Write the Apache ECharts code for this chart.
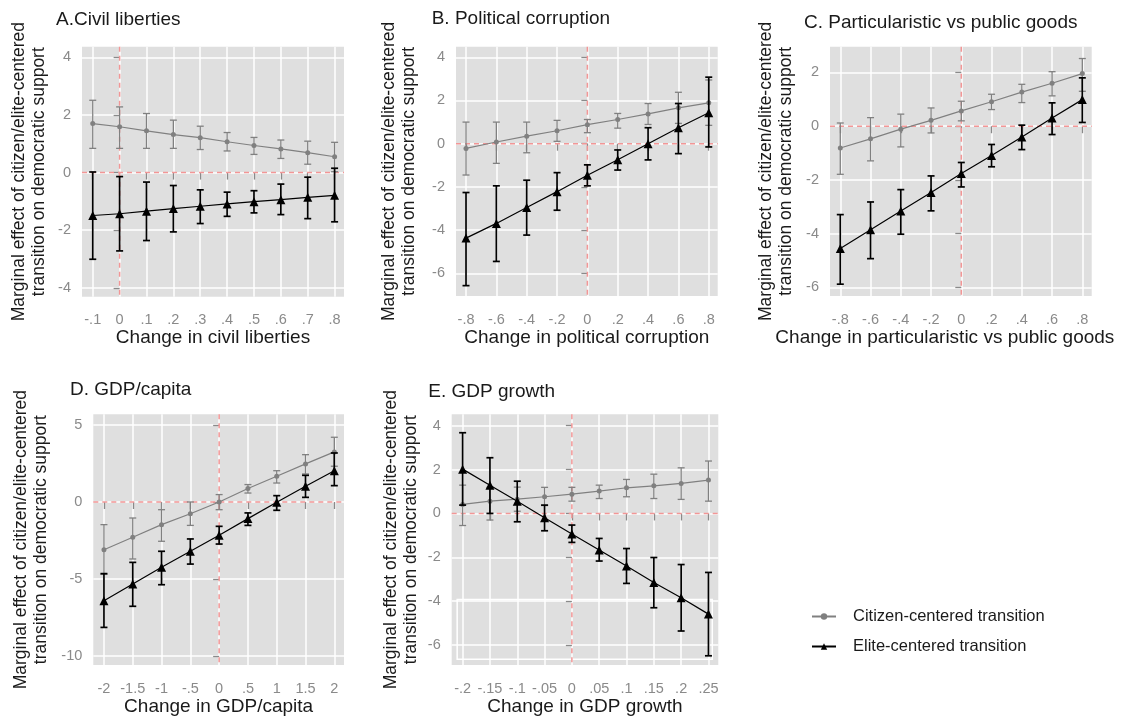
<!DOCTYPE html>
<html><head><meta charset="utf-8">
<script src="https://cdn.jsdelivr.net/npm/echarts@6/dist/echarts.min.js"></script>
<style>html,body{margin:0;padding:0;background:#fff}#c{width:1126px;height:717px}</style>
</head><body><div id="c"></div><script>
// ---------- Panel A: Civil liberties ----------
const xA = [-0.1, 0, 0.1, 0.2, 0.3, 0.4, 0.5, 0.6, 0.7, 0.8];
const xLabA = ['-.1', '0', '.1', '.2', '.3', '.4', '.5', '.6', '.7', '.8'];
const yTickA = [-4, -2, 0, 2, 4];
const yLabA = ['-4', '-2', '0', '2', '4'];
const citA = [1.70, 1.59, 1.45, 1.32, 1.21, 1.07, 0.94, 0.82, 0.69, 0.55];
const citLoA = [0.84, 0.84, 0.84, 0.84, 0.80, 0.75, 0.63, 0.49, 0.29, 0.03];
const citHiA = [2.51, 2.28, 2.05, 1.82, 1.61, 1.39, 1.22, 1.13, 1.09, 1.05];
const eliA = [-1.49, -1.43, -1.34, -1.25, -1.17, -1.09, -1.01, -0.94, -0.86, -0.79];
const eliLoA = [-3.01, -2.72, -2.36, -2.06, -1.77, -1.52, -1.40, -1.46, -1.60, -1.71];
const eliHiA = [0.02, -0.14, -0.33, -0.45, -0.60, -0.68, -0.63, -0.40, -0.16, 0.15];

// ---------- Panel B: Political corruption ----------
const xB = [-0.8, -0.6, -0.4, -0.2, 0, 0.2, 0.4, 0.6, 0.8];
const xLabB = ['-.8', '-.6', '-.4', '-.2', '0', '.2', '.4', '.6', '.8'];
const yTickB = [-6, -4, -2, 0, 2, 4];
const yLabB = ['-6', '-4', '-2', '0', '2', '4'];
const citB = [-0.22, 0.08, 0.35, 0.60, 0.88, 1.12, 1.38, 1.66, 1.89];
const citLoB = [-1.45, -0.91, -0.42, 0.11, 0.51, 0.72, 0.89, 0.94, 0.85];
const citHiB = [1.00, 1.00, 1.00, 1.08, 1.12, 1.40, 1.86, 2.38, 2.95];
const eliB = [-4.37, -3.69, -2.95, -2.22, -1.46, -0.74, 0.00, 0.74, 1.43];
const eliLoB = [-6.57, -5.45, -4.23, -3.08, -1.95, -1.22, -0.75, -0.46, -0.15];
const eliHiB = [-2.26, -1.95, -1.69, -1.34, -0.98, -0.29, 0.74, 1.86, 3.08];

// ---------- Panel C: Particularistic vs public goods ----------
const xC = [-0.8, -0.6, -0.4, -0.2, 0, 0.2, 0.4, 0.6, 0.8];
const xLabC = ['-.8', '-.6', '-.4', '-.2', '0', '.2', '.4', '.6', '.8'];
const yTickC = [-6, -4, -2, 0, 2];
const yLabC = ['-6', '-4', '-2', '0', '2'];
const citC = [-0.81, -0.47, -0.11, 0.22, 0.57, 0.91, 1.27, 1.60, 1.96];
const citLoC = [-1.79, -1.29, -0.77, -0.25, 0.20, 0.62, 0.88, 1.13, 1.30];
const citHiC = [0.12, 0.32, 0.45, 0.68, 0.93, 1.19, 1.56, 2.03, 2.52];
const eliC = [-4.55, -3.85, -3.16, -2.47, -1.76, -1.09, -0.40, 0.31, 0.99];
const eliLoC = [-5.88, -4.93, -4.02, -3.15, -2.26, -1.51, -0.87, -0.31, 0.14];
const eliHiC = [-3.29, -2.82, -2.36, -1.85, -1.35, -0.68, 0.04, 0.87, 1.80];

// ---------- Panel D: GDP/capita ----------
const xD = [-2, -1.5, -1, -0.5, 0, 0.5, 1, 1.5, 2];
const xLabD = ['-2', '-1.5', '-1', '-.5', '0', '.5', '1', '1.5', '2'];
const yTickD = [-10, -5, 0, 5];
const yLabD = ['-10', '-5', '0', '5'];
const citD = [-3.10, -2.29, -1.47, -0.76, 0.00, 0.87, 1.67, 2.47, 3.25];
const citLoD = [-4.70, -3.70, -2.55, -1.52, -0.50, 0.58, 1.23, 1.82, 2.32];
const citHiD = [-1.47, -1.04, -0.50, 0.00, 0.48, 1.13, 2.03, 3.07, 4.20];
const eliD = [-6.41, -5.32, -4.24, -3.20, -2.16, -1.08, -0.02, 1.02, 2.03];
const eliLoD = [-8.14, -6.77, -5.37, -4.03, -2.73, -1.52, -0.54, 0.30, 1.06];
const eliHiD = [-4.65, -3.92, -3.20, -2.40, -1.58, -0.71, 0.41, 1.73, 3.18];

// ---------- Panel E: GDP growth ----------
const xE = [-0.2, -0.15, -0.1, -0.05, 0, 0.05, 0.1, 0.15, 0.2, 0.25];
const xLabE = ['-.2', '-.15', '-.1', '-.05', '0', '.05', '.1', '.15', '.2', '.25'];
const yTickE = [-6, -4, -2, 0, 2, 4];
const yLabE = ['-6', '-4', '-2', '0', '2', '4'];
const citE = [0.41, 0.56, 0.65, 0.76, 0.88, 1.02, 1.17, 1.26, 1.37, 1.52];
const citLoE = [-0.55, -0.30, 0.10, 0.36, 0.56, 0.68, 0.76, 0.68, 0.64, 0.56];
const citHiE = [1.29, 1.19, 1.20, 1.19, 1.19, 1.29, 1.55, 1.79, 2.08, 2.39];
const eliE = [2.02, 1.29, 0.56, -0.20, -0.94, -1.67, -2.40, -3.15, -3.84, -4.59];
const eliLoE = [0.38, 0.00, -0.38, -0.79, -1.32, -2.17, -3.19, -4.30, -5.36, -6.49];
const eliHiE = [3.68, 2.54, 1.47, 0.38, -0.53, -1.14, -1.60, -2.01, -2.33, -2.69];
// stray white frame present in the original panel E (x from, x to, y from, y to)
const frameE = [-0.210, 0.257, -3.92, -6.65];

// reference value for the dashed red lines (x = 0 and y = 0)
const refPoint = [0, 0];

const titles = ['A.Civil liberties', 'B. Political corruption', 'C. Particularistic vs public goods', 'D. GDP/capita', 'E. GDP growth'];
const xNames = ['Change in civil liberties', 'Change in political corruption', 'Change in particularistic vs public goods', 'Change in GDP/capita', 'Change in GDP growth'];
const yName = 'Marginal effect of citizen/elite-centered\ntransition on democratic support';
const seriesNames = ['Citizen-centered transition', 'Elite-centered transition'];

// ---------- layout / style ----------
const FONT = 'Liberation Sans, Arial, sans-serif';
const GRAY = '#808080';
const TICKC = '#8a8a8a';
const TXT = '#1a1a1a';
const REDC = '#f29696';
const layout = [
  {grid: {left: 82, top: 46.7, width: 262, height: 250}, xr: [-0.140, 0.835], yr: [-4.31, 4.37], title: [56, 9.8], yGap: 31, xPad: 0},
  {grid: {left: 456, top: 46.7, width: 261.7, height: 249.3}, xr: [-0.866, 0.859], yr: [-7.05, 4.49], title: [431.7, 8.8], yGap: 35, xPad: 0},
  {grid: {left: 830, top: 46.7, width: 261.7, height: 249.3}, xr: [-0.868, 0.862], yr: [-6.32, 2.96], title: [804, 13], yGap: 32, xPad: 32},
  {grid: {left: 93.3, top: 414.3, width: 250.7, height: 250.7}, xr: [-2.185, 2.168], yr: [-10.58, 5.69], title: [70, 380.5], yGap: 40, xPad: 0},
  {grid: {left: 451.7, top: 414.3, width: 266.6, height: 250.7}, xr: [-0.220, 0.268], yr: [-6.91, 4.52], title: [428.3, 382], yGap: 29, xPad: 0}
];

const panels = [
  {x: xA, xl: xLabA, yt: yTickA, yl: yLabA, c: citA, cl: citLoA, ch: citHiA, e: eliA, el: eliLoA, eh: eliHiA},
  {x: xB, xl: xLabB, yt: yTickB, yl: yLabB, c: citB, cl: citLoB, ch: citHiB, e: eliB, el: eliLoB, eh: eliHiB},
  {x: xC, xl: xLabC, yt: yTickC, yl: yLabC, c: citC, cl: citLoC, ch: citHiC, e: eliC, el: eliLoC, eh: eliHiC},
  {x: xD, xl: xLabD, yt: yTickD, yl: yLabD, c: citD, cl: citLoD, ch: citHiD, e: eliD, el: eliLoD, eh: eliHiD},
  {x: xE, xl: xLabE, yt: yTickE, yl: yLabE, c: citE, cl: citLoE, ch: citHiE, e: eliE, el: eliLoE, eh: eliHiE}
];

function labeler(ticks, labels) {
  return function (v) {
    for (let i = 0; i < ticks.length; i++) if (Math.abs(ticks[i] - v) < 1e-9) return labels[i];
    return '';
  };
}

function errRender(capW, color, lw) {
  return function (params, api) {
    const x = api.value(0), lo = api.value(1), hi = api.value(2);
    const p1 = api.coord([x, lo]), p2 = api.coord([x, hi]);
    const h = capW / 2;
    const st = {stroke: color, lineWidth: lw};
    return {type: 'group', children: [
      {type: 'line', shape: {x1: p1[0], y1: p1[1], x2: p2[0], y2: p2[1]}, style: st},
      {type: 'line', shape: {x1: p1[0] - h, y1: p1[1], x2: p1[0] + h, y2: p1[1]}, style: st},
      {type: 'line', shape: {x1: p2[0] - h, y1: p2[1], x2: p2[0] + h, y2: p2[1]}, style: st}
    ]};
  };
}

function refRender(params, api) {
  const cs = params.coordSys;
  const p = api.coord([api.value(0), api.value(1)]);
  const st = {stroke: REDC, lineWidth: 1.5, lineDash: [5, 4]};
  return {type: 'group', children: [
    {type: 'line', shape: {x1: p[0], y1: cs.y, x2: p[0], y2: cs.y + cs.height}, style: st},
    {type: 'line', shape: {x1: cs.x, y1: p[1], x2: cs.x + cs.width, y2: p[1]}, style: st}
  ]};
}

function frameRender(params, api) {
  const a = api.coord([api.value(0), api.value(2)]);
  const b = api.coord([api.value(1), api.value(3)]);
  return {type: 'rect', shape: {x: a[0], y: a[1], width: b[0] - a[0], height: b[1] - a[1]},
    style: {fill: 'none', stroke: '#ffffff', lineWidth: 1.5}};
}

const grids = [], xAxes = [], yAxes = [], series = [], titleOpts = [];
panels.forEach(function (p, i) {
  const L = layout[i];
  grids.push(Object.assign({show: true, backgroundColor: '#dfdfdf', borderWidth: 0, containLabel: false}, L.grid));
  titleOpts.push({text: titles[i], left: L.title[0], top: L.title[1], padding: 0,
    textStyle: {fontSize: 19, fontWeight: 'normal', color: TXT, fontFamily: FONT}});
  xAxes.push({
    gridIndex: i, type: 'value', min: L.xr[0], max: L.xr[1], offset: 1,
    axisLine: {show: false},
    axisTick: {show: true, length: 7, customValues: p.x, lineStyle: {color: TICKC, width: 1.3}},
    axisLabel: {customValues: p.x, formatter: labeler(p.x, p.xl), color: TICKC, fontSize: 14.5, margin: 15, fontFamily: FONT},
    splitLine: {show: true, lineStyle: {color: '#ffffff', width: 1.5}},
    name: xNames[i], nameLocation: 'middle', nameGap: 30,
    nameTextStyle: {fontSize: 19, color: TXT, fontFamily: FONT, padding: [0, L.xPad, 0, 0]}
  });
  yAxes.push({
    gridIndex: i, type: 'value', min: L.yr[0], max: L.yr[1], offset: 2,
    axisLine: {show: false},
    axisTick: {show: true, length: 6, customValues: p.yt, lineStyle: {color: TICKC, width: 1.3}},
    axisLabel: {customValues: p.yt, formatter: labeler(p.yt, p.yl), color: TICKC, fontSize: 14.5, margin: 9, fontFamily: FONT},
    splitLine: {show: true, lineStyle: {color: '#ffffff', width: 1.5}},
    name: yName, nameLocation: 'middle', nameGap: L.yGap,
    nameTextStyle: {fontSize: 17.5, lineHeight: 20, color: TXT, fontFamily: FONT}
  });
  const citErr = p.x.map(function (x, k) { return [x, p.cl[k], p.ch[k]]; });
  const eliErr = p.x.map(function (x, k) { return [x, p.el[k], p.eh[k]]; });
  const citPts = p.x.map(function (x, k) { return [x, p.c[k]]; });
  const eliPts = p.x.map(function (x, k) { return [x, p.e[k]]; });
  if (i === 4) {
    series.push({
      type: 'custom', name: 'frame', xAxisIndex: i, yAxisIndex: i, renderItem: frameRender,
      encode: {x: [0, 1], y: [2, 3]}, data: [frameE], silent: true, z: 1
    });
  }
  series.push({
    type: 'custom', name: 'ref' + i, xAxisIndex: i, yAxisIndex: i, renderItem: refRender,
    encode: {x: 0, y: 1}, data: [refPoint], silent: true, z: 1
  });
  series.push({
    type: 'custom', name: 'citErr' + i, xAxisIndex: i, yAxisIndex: i,
    renderItem: errRender(7, GRAY, 1.3), encode: {x: 0, y: [1, 2]}, data: citErr, silent: true, z: 2
  });
  series.push({
    type: 'line', name: seriesNames[0], xAxisIndex: i, yAxisIndex: i, data: citPts,
    symbol: 'circle', symbolSize: 5, itemStyle: {color: GRAY}, lineStyle: {color: GRAY, width: 1.2},
    silent: true, z: 3
  });
  series.push({
    type: 'custom', name: 'eliErr' + i, xAxisIndex: i, yAxisIndex: i,
    renderItem: errRender(7, '#000000', 1.7), encode: {x: 0, y: [1, 2]}, data: eliErr, silent: true, z: 4
  });
  series.push({
    type: 'line', name: seriesNames[1], xAxisIndex: i, yAxisIndex: i, data: eliPts,
    symbol: 'triangle', symbolSize: 9, itemStyle: {color: '#000000'}, lineStyle: {color: '#000000', width: 1.2},
    silent: true, z: 5
  });
});

const chart = echarts.init(document.getElementById('c'), null, {renderer: 'canvas'});
chart.setOption({
  animation: false,
  backgroundColor: '#ffffff',
  textStyle: {fontFamily: FONT},
  title: titleOpts,
  grid: grids,
  xAxis: xAxes,
  yAxis: yAxes,
  legend: {
    orient: 'vertical', left: 811, top: 608, padding: 0, itemWidth: 24, itemHeight: 8, itemGap: 13,
    selectedMode: false, data: seriesNames,
    textStyle: {fontSize: 16.5, color: TXT, fontFamily: FONT, padding: [0, 0, 0, 12]}
  },
  series: series
});
</script></body></html>
